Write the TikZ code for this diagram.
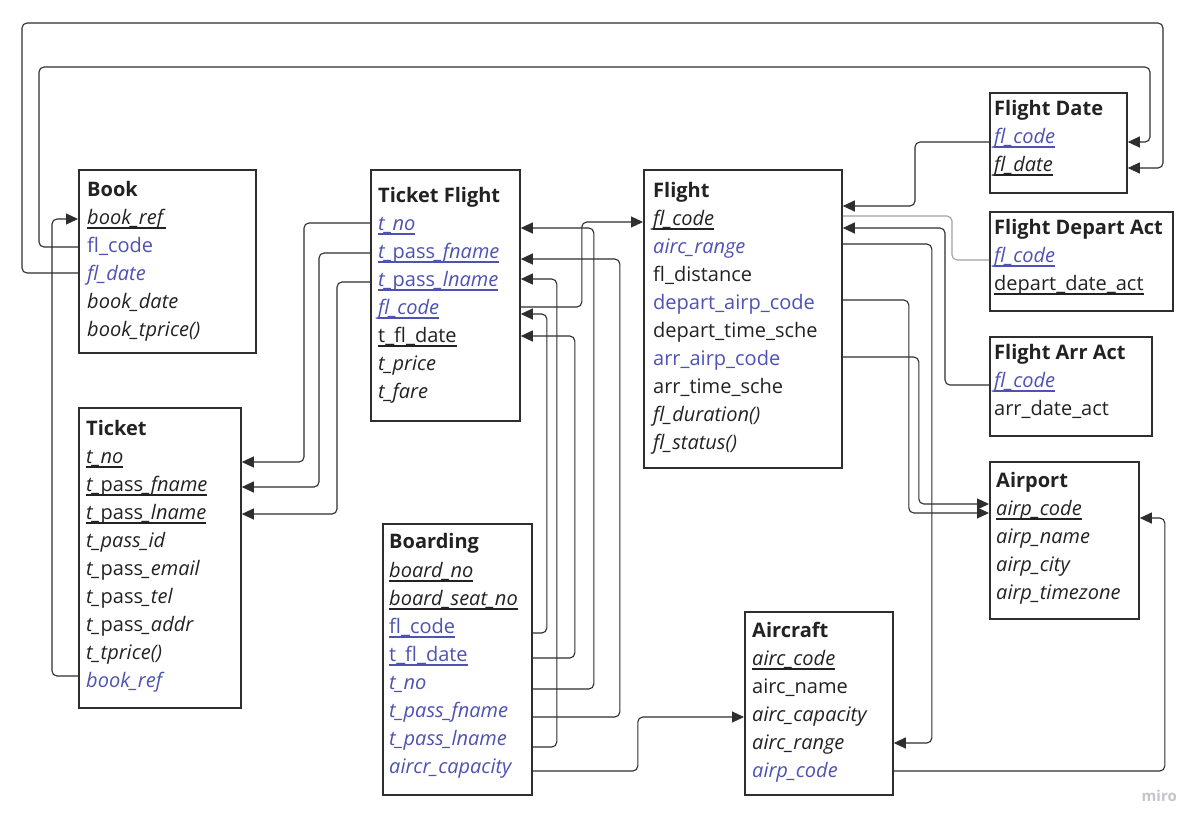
\documentclass[tikz,border=0pt]{standalone}
\usepackage{fontspec}
\setmainfont{Open Sans}
\newsavebox{\klbox}
\newcommand{\keyline}[1]{\leavevmode\sbox{\klbox}{#1}\rlap{\rule[-4.9pt]{\wd\klbox}{1.5pt}}\usebox{\klbox}}
\usetikzlibrary{arrows.meta,calc}
\definecolor{ink}{HTML}{222222}
\definecolor{fk}{HTML}{4D52B3}
\definecolor{edgec}{HTML}{2E2E2E}
\definecolor{lightc}{HTML}{A0A0A0}
\definecolor{miroc}{HTML}{C4C4CC}
\tikzset{
  box/.style={draw=edgec, line width=1.8pt, anchor=north west, inner sep=0pt, fill=white},
  ttl/.style={anchor=base west, inner sep=0pt, font=\fontsize{20}{24}\selectfont\bfseries, text=ink},
  fld/.style={anchor=base west, inner sep=0pt, font=\fontsize{20}{24}\selectfont, text=ink},
  fkf/.style={fld, text=fk},
  conn/.style={draw=edgec, line width=1.1pt, rounded corners=5pt, -{Triangle[length=12pt,width=11pt]}},
  faint/.style={draw=lightc, line width=1.1pt, rounded corners=5pt}
}
\begin{document}
\begin{tikzpicture}[x=1pt,y=-1pt]
\fill[white] (0,0) rectangle (1204,830);
\useasboundingbox (0,0) rectangle (1204,830);

% Book
\node[box, minimum width=177pt, minimum height=183pt] (book) at (78,169) {};
\node[ttl] (bk0) at (87,196) {Book};
\node[fld] (bk1) at (87,224) {\keyline{\textit{book\_ref}}};
\node[fkf] (bk2) at (87,252) {fl\_code};
\node[fkf] (bk3) at (87,280) {\textit{fl\_date}};
\node[fld] (bk4) at (87,308) {\textit{book\_date}};
\node[fld] (bk5) at (87,336) {\textit{book\_tprice()}};

% Ticket Flight
\node[box, minimum width=149pt, minimum height=251pt] (tf) at (370,169) {};
\node[ttl] (tf0) at (378,202) {Ticket Flight};
\node[fkf] (tf1) at (378,230) {\keyline{\textit{t\_no}}};
\node[fkf] (tf2) at (378,258) {\keyline{\textit{t\_}pass\textit{\_fname}}};
\node[fkf] (tf3) at (378,286) {\keyline{\textit{t\_}pass\textit{\_lname}}};
\node[fkf] (tf4) at (378,314) {\keyline{\textit{fl\_code}}};
\node[fld] (tf5) at (378,342) {\keyline{t\_fl\_date}};
\node[fld] (tf6) at (378,370) {\textit{t\_price}};
\node[fld] (tf7) at (378,398) {\textit{t\_fare}};

% Flight
\node[box, minimum width=198pt, minimum height=298pt] (flight) at (643,169) {};
\node[ttl] (fl0) at (653,197) {Flight};
\node[fld] (fl1) at (653,225) {\keyline{\textit{fl\_code}}};
\node[fkf] (fl2) at (653,253) {\textit{airc\_range}};
\node[fld] (fl3) at (653,281) {fl\_distance};
\node[fkf] (fl4) at (653,309) {depart\_airp\_code};
\node[fld] (fl5) at (653,337) {depart\_time\_sche};
\node[fkf] (fl6) at (653,365) {arr\_airp\_code};
\node[fld] (fl7) at (653,393) {arr\_time\_sche};
\node[fld] (fl8) at (653,421) {\textit{fl\_duration()}};
\node[fld] (fl9) at (653,449) {\textit{fl\_status()}};

% Flight Date
\node[box, minimum width=137pt, minimum height=100pt] (fd) at (989,92) {};
\node[ttl] (fd0) at (994,115) {Flight Date};
\node[fkf] (fd1) at (994,143) {\keyline{\textit{fl\_code}}};
\node[fld] (fd2) at (994,171) {\keyline{\textit{fl\_date}}};

% Flight Depart Act
\node[box, minimum width=183pt, minimum height=99pt] (fda) at (989,211) {};
\node[ttl] (fda0) at (994,234) {Flight Depart Act};
\node[fkf] (fda1) at (994,262) {\keyline{\textit{fl\_code}}};
\node[fld] (fda2) at (994,290) {\keyline{depart\_date\_act}};

% Flight Arr Act
\node[box, minimum width=162pt, minimum height=99pt] (faa) at (989,336) {};
\node[ttl] (faa0) at (994,359) {Flight Arr Act};
\node[fkf] (faa1) at (994,387) {\keyline{\textit{fl\_code}}};
\node[fld] (faa2) at (994,415) {arr\_date\_act};

% Ticket
\node[box, minimum width=162pt, minimum height=300pt] (ticket) at (78,407) {};
\node[ttl] (tk0) at (86,435) {Ticket};
\node[fld] (tk1) at (86,463) {\keyline{\textit{t\_no}}};
\node[fld] (tk2) at (86,491) {\keyline{\textit{t\_}pass\textit{\_fname}}};
\node[fld] (tk3) at (86,519) {\keyline{\textit{t\_}pass\textit{\_lname}}};
\node[fld] (tk4) at (86,547) {\textit{t\_pass\_id}};
\node[fld] (tk5) at (86,575) {\textit{t\_}pass\textit{\_email}};
\node[fld] (tk6) at (86,603) {\textit{t\_}pass\textit{\_tel}};
\node[fld] (tk7) at (86,631) {\textit{t\_}pass\textit{\_addr}};
\node[fld] (tk8) at (86,659) {\textit{t\_tprice()}};
\node[fkf] (tk9) at (86,687) {\textit{book\_ref}};

% Boarding
\node[box, minimum width=149pt, minimum height=271pt] (board) at (382,523) {};
\node[ttl] (bd0) at (389,548) {Boarding};
\node[fld] (bd1) at (389,577) {\keyline{\textit{board\_no}}};
\node[fld] (bd2) at (389,605) {\keyline{\textit{board\_seat\_no}}};
\node[fkf] (bd3) at (389,633) {\keyline{fl\_code}};
\node[fkf] (bd4) at (389,661) {\keyline{t\_fl\_date}};
\node[fkf] (bd5) at (389,689) {\textit{t\_no}};
\node[fkf] (bd6) at (389,717) {\textit{t\_pass\_fname}};
\node[fkf] (bd7) at (389,745) {\textit{t\_pass\_lname}};
\node[fkf] (bd8) at (389,773) {\textit{aircr\_capacity}};

% Airport
\node[box, minimum width=149pt, minimum height=157pt] (airport) at (989,461) {};
\node[ttl] (ap0) at (996,487) {Airport};
\node[fld] (ap1) at (996,515) {\keyline{\textit{airp\_code}}};
\node[fld] (ap2) at (996,543) {\textit{airp\_name}};
\node[fld] (ap3) at (996,571) {\textit{airp\_city}};
\node[fld] (ap4) at (996,599) {\textit{airp\_timezone}};

% Aircraft
\node[box, minimum width=148pt, minimum height=183pt] (aircraft) at (744,611) {};
\node[ttl] (ac0) at (752,637) {Aircraft};
\node[fld] (ac1) at (752,665) {\keyline{\textit{airc\_code}}};
\node[fld] (ac2) at (752,693) {airc\_name};
\node[fld] (ac3) at (752,721) {\textit{airc\_capacity}};
\node[fld] (ac4) at (752,749) {\textit{airc\_range}};
\node[fkf] (ac5) at (752,777) {\textit{airp\_code}};

% watermark
\node[anchor=base east, inner sep=0pt, text=miroc, font=\fontsize{15}{18}\selectfont\bfseries] (miro) at (1177,801) {miro};

% connectors
\draw[conn] ($(book.west|-bk3.base)+(0,-7)$) -- ++(-56,0) |- (1163,23) |- ($(fd.east|-fd2.base)+(0,-3)$);
\draw[conn] ($(book.west|-bk2.base)+(0,-5)$) -- ++(-39,0) |- (1150,67) |- ($(fd.east|-fd1.base)+(0,-1)$);
\draw[conn] ($(ticket.west|-tk9.base)+(0,-11)$) -- ++(-26,0) |- ($(book.west|-bk1.base)+(0,-5)$);
\draw[conn] ($(tf.west|-tf1.base)+(0,-7)$) -- ++(-66,0) |- ($(ticket.east|-tk1.base)+(0,-1)$);
\draw[conn] ($(tf.west|-tf2.base)+(0,-5)$) -- ++(-51,0) |- ($(ticket.east|-tk2.base)+(0,-4)$);
\draw[conn] ($(tf.west|-tf3.base)+(0,-4)$) -- ++(-33,0) |- ($(ticket.east|-tk3.base)+(0,-5)$);
\draw[conn] ($(tf.east|-tf4.base)+(0,-7)$) -- ++(61,0) |- ($(flight.west|-fl1.base)+(0,-3)$);
\draw[conn] (board.east|-bd3.base) -- ++(14,0) |- (tf.east|-tf4.base);
\draw[conn] ($(board.east|-bd4.base)+(0,-3)$) -- ++(42,0) |- ($(tf.east|-tf5.base)+(0,-6)$);
\draw[conn] (board.east|-bd5.base) -- ++(61,0) |- ($(tf.east|-tf1.base)+(0,-2)$);
\draw[conn] (board.east|-bd6.base) -- ++(87,0) |- ($(tf.east|-tf2.base)+(0,1)$);
\draw[conn] ($(board.east|-bd7.base)+(0,2)$) -- ++(24,0) |- ($(tf.east|-tf3.base)+(0,-7)$);
\draw[conn] ($(board.east|-bd8.base)+(0,-2)$) -- ++(105,0) |- ($(aircraft.west|-ac3.base)+(0,-4)$);
\draw[conn] ($(fd.west|-fd1.base)+(0,-1)$) -- ++(-74,0) |- ($(flight.east|-fl1.base)+(0,-19)$);
\draw[faint] ($(fda.west|-fda1.base)+(0,-2)$) -- ++(-37,0) |- ($(flight.east|-fl1.base)+(0,-9)$);
\draw[conn] ($(faa.west|-faa1.base)+(0,-2)$) -- ++(-44,0) |- ($(flight.east|-fl1.base)+(0,3)$);
\draw[conn] ($(flight.east|-fl2.base)+(0,-9)$) -- ++(89,0) |- ($(aircraft.east|-ac4.base)+(0,-6)$);
\draw[conn] ($(flight.east|-fl4.base)+(0,-9)$) -- ++(66,0) |- ($(airport.west|-ap1.base)+(0,-2)$);
\draw[conn] ($(flight.east|-fl6.base)+(0,-8)$) -- ++(76,0) |- ($(airport.west|-ap1.base)+(0,-11)$);
\draw[conn] ($(aircraft.east|-ac5.base)+(0,-6)$) -- ++(271,0) |- ($(airport.east|-ap1.base)+(0,3)$);
\end{tikzpicture}
\end{document}
